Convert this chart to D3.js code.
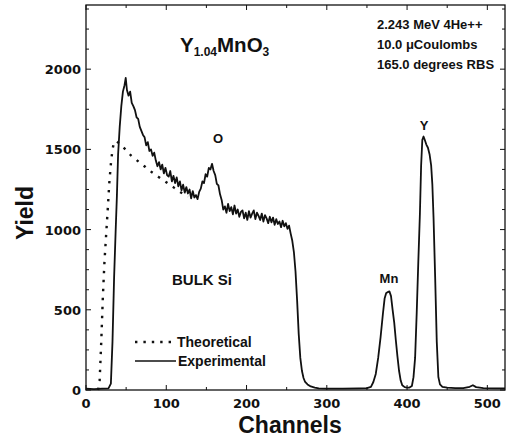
<!DOCTYPE html>
<html>
<head>
<meta charset="utf-8">
<script src="https://cdn.jsdelivr.net/npm/d3@7"></script>
<style>
  body { margin: 0; background: #fff; }
  svg text { fill: #111; }
</style>
</head>
<body>
<svg id="chart" width="508" height="441"></svg>
<script>
// experimental RBS spectrum (channel, yield)
const expChannels = [0, 10, 20, 28, 31, 33, 35, 37, 38.5, 40, 42, 44, 46, 48, 49.5,
  51, 53, 55, 57, 59, 61, 63, 65, 67, 69, 71, 73, 75, 77, 79, 81, 83, 85, 87, 89, 91, 93, 95, 97, 99,
  101, 103, 105, 107, 109, 111, 113, 115, 117, 119, 121, 123, 125, 127, 129, 131, 133, 135, 137, 139,
  141, 143, 145, 147, 149, 151, 153, 155, 157, 159, 161, 163, 165, 167, 169, 171, 173, 175, 177, 179,
  181, 183, 185, 187, 189, 191, 193, 195, 197, 199, 201, 203, 205, 207, 209, 211, 213, 215, 217, 219,
  221, 223, 225, 227, 229, 231, 233, 235, 237, 239, 241, 243, 245, 247, 249, 251, 253, 255,
  257, 259, 261, 263, 265, 267, 269, 271, 273, 276, 280, 285, 290, 300, 320, 340, 350,
  355, 358, 361, 364, 367, 370, 372, 374, 376, 378, 380, 382, 384, 386, 388, 390, 392, 394, 397, 400, 403, 406, 408,
  410, 412, 414, 416, 417.5, 419, 420.5, 422, 424, 426, 428, 430, 431.5, 433, 435, 437, 439, 441, 444, 450, 460, 470,
  478, 482, 486, 495, 510, 522];
const expYield = [8, 6, 8, 10, 40, 300, 700, 1000, 1210, 1470, 1640, 1770, 1860, 1900, 1945,
  1870, 1835, 1860, 1790, 1770, 1745, 1700, 1690, 1640, 1615, 1590, 1575, 1525, 1545, 1490, 1500, 1460, 1480, 1430, 1395, 1420, 1375, 1405, 1350, 1385,
  1340, 1330, 1365, 1300, 1335, 1290, 1325, 1270, 1300, 1245, 1280, 1230, 1265, 1225, 1250, 1195, 1240, 1200, 1215, 1190,
  1235, 1255, 1300, 1290, 1345, 1330, 1385, 1375, 1410, 1365, 1340, 1285, 1275, 1220, 1185, 1125, 1145, 1105, 1160, 1115,
  1140, 1095, 1150, 1100, 1125, 1080, 1110, 1120, 1070, 1105, 1060, 1115, 1075, 1100, 1120, 1065, 1105, 1085, 1060, 1100,
  1050, 1090, 1070, 1040, 1080, 1045, 1075, 1030, 1065, 1035, 1050, 1015, 1055, 1020, 1040, 1005, 1025, 975,
  930, 860, 740, 560, 350, 200, 120, 75, 50, 35, 22, 15, 10, 8, 8, 10, 12,
  20, 50, 100, 200, 330, 480, 570, 605, 610, 615, 585, 500, 420, 310, 210, 120, 60, 30, 18, 15, 15, 25, 80,
  200, 480, 800, 1100, 1400, 1560, 1580, 1560, 1530, 1510, 1470, 1400, 1280, 1070, 700, 300, 80, 35, 20, 15, 12, 12,
  20, 30, 18, 12, 10, 10];

// simulated (theoretical) curve, only the visible part
const theoChannels = [15, 17, 19, 21, 23, 25, 27, 29, 31, 33, 35, 38, 44, 50, 56, 62, 68, 74, 80, 90, 100, 110, 120, 127];
const theoYield = [0, 60, 300, 580, 800, 960, 1120, 1290, 1410, 1500, 1545, 1552, 1525, 1495, 1462, 1438, 1413, 1390, 1365, 1330, 1295, 1260, 1225, 1205];

const xTicks = [0, 100, 200, 300, 400, 500];
const yTicks = [0, 500, 1000, 1500, 2000];

const svg = d3.select("#chart");
const mLeft = 86, mRight = 505, mTop = 5, mBottom = 390;

const x = d3.scaleLinear().domain([0, 522]).range([mLeft, mRight]);
const y = d3.scaleLinear().domain([0, 2400]).range([mBottom, mTop]);

const tickFont = "'DejaVu Sans', sans-serif";
const labelFont = "'Liberation Sans', Arial, sans-serif";

// frame
svg.append("rect")
  .attr("x", mLeft).attr("y", mTop)
  .attr("width", mRight - mLeft).attr("height", mBottom - mTop)
  .attr("fill", "none").attr("stroke", "#111").attr("stroke-width", 1.3);

// ticks (inside, all four sides)
const tk = svg.append("g").attr("stroke", "#111").attr("stroke-width", 1);
d3.range(0, 522, 50).forEach(v => {
  const len = v % 100 === 0 ? 5 : 3;
  tk.append("line").attr("x1", x(v)).attr("x2", x(v)).attr("y1", mBottom).attr("y2", mBottom - len);
  tk.append("line").attr("x1", x(v)).attr("x2", x(v)).attr("y1", mTop).attr("y2", mTop + len);
});
d3.range(0, 2401, 125).forEach(v => {
  const len = v % 500 === 0 ? 5 : 3;
  tk.append("line").attr("x1", mLeft).attr("x2", mLeft + len).attr("y1", y(v)).attr("y2", y(v));
  tk.append("line").attr("x1", mRight).attr("x2", mRight - len).attr("y1", y(v)).attr("y2", y(v));
});

// tick labels
svg.append("g").selectAll("text").data(xTicks).enter().append("text")
  .attr("x", d => x(d)).attr("y", 408)
  .attr("text-anchor", "middle")
  .style("font", "bold 13px " + tickFont)
  .text(d => d);
svg.append("g").selectAll("text").data(yTicks).enter().append("text")
  .attr("x", 81).attr("y", d => y(d) + 5)
  .attr("text-anchor", "end")
  .style("font", "bold 13px " + tickFont)
  .text(d => d);

// axis titles
svg.append("text")
  .attr("x", 290).attr("y", 433)
  .attr("text-anchor", "middle")
  .style("font", "bold 23px " + labelFont)
  .text("Channels");
svg.append("text")
  .attr("transform", "translate(33,213) rotate(-90)")
  .attr("text-anchor", "middle")
  .style("font", "bold 23px " + labelFont)
  .text("Yield");

// curves
const line = d3.line().x(d => x(d[0])).y(d => y(d[1]));
svg.append("path")
  .datum(d3.zip(theoChannels, theoYield))
  .attr("d", line)
  .attr("fill", "none").attr("stroke", "#111")
  .attr("stroke-width", 2.4).attr("stroke-dasharray", "2.4,6.6");
svg.append("path")
  .datum(d3.zip(expChannels, expYield))
  .attr("d", line)
  .attr("fill", "none").attr("stroke", "#111")
  .attr("stroke-width", 1.8).attr("stroke-linejoin", "round");

// title
const title = svg.append("text")
  .attr("x", 180).attr("y", 52)
  .style("font", "bold 20.5px " + labelFont);
title.append("tspan").text("Y");
title.append("tspan").attr("dy", 4).style("font-size", "12px").text("1.04");
title.append("tspan").attr("dy", -4).text("MnO");
title.append("tspan").attr("dy", 4).style("font-size", "12px").text("3");

// run conditions
const info = ["2.243 MeV 4He++", "10.0 \u03bcCoulombs", "165.0 degrees RBS"];
svg.append("g").selectAll("text").data(info).enter().append("text")
  .attr("x", 377).attr("y", (d, i) => 29 + i * 20)
  .style("font", "bold 13px " + labelFont)
  .text(d => d);

// peak labels
const peaks = [
  {t: "O", x: 218, y: 143},
  {t: "Y", x: 424, y: 130},
  {t: "Mn", x: 389, y: 283},
  {t: "BULK Si", x: 202, y: 285}
];
svg.append("g").selectAll("text").data(peaks).enter().append("text")
  .attr("x", d => d.x).attr("y", d => d.y)
  .attr("text-anchor", "middle")
  .style("font", d => (d.t === "BULK Si" ? "bold 15px " : "bold 13px ") + labelFont)
  .text(d => d.t);

// legend
const lg = svg.append("g");
lg.append("line").attr("x1", 135).attr("x2", 175).attr("y1", 342).attr("y2", 342)
  .attr("stroke", "#111").attr("stroke-width", 2.4).attr("stroke-dasharray", "2.4,6");
lg.append("line").attr("x1", 135).attr("x2", 176).attr("y1", 361).attr("y2", 361)
  .attr("stroke", "#111").attr("stroke-width", 1.3);
lg.append("text").attr("x", 177).attr("y", 347).style("font", "bold 14px " + labelFont).text("Theoretical");
lg.append("text").attr("x", 178).attr("y", 366).style("font", "bold 14px " + labelFont).text("Experimental");
</script>
</body>
</html>
